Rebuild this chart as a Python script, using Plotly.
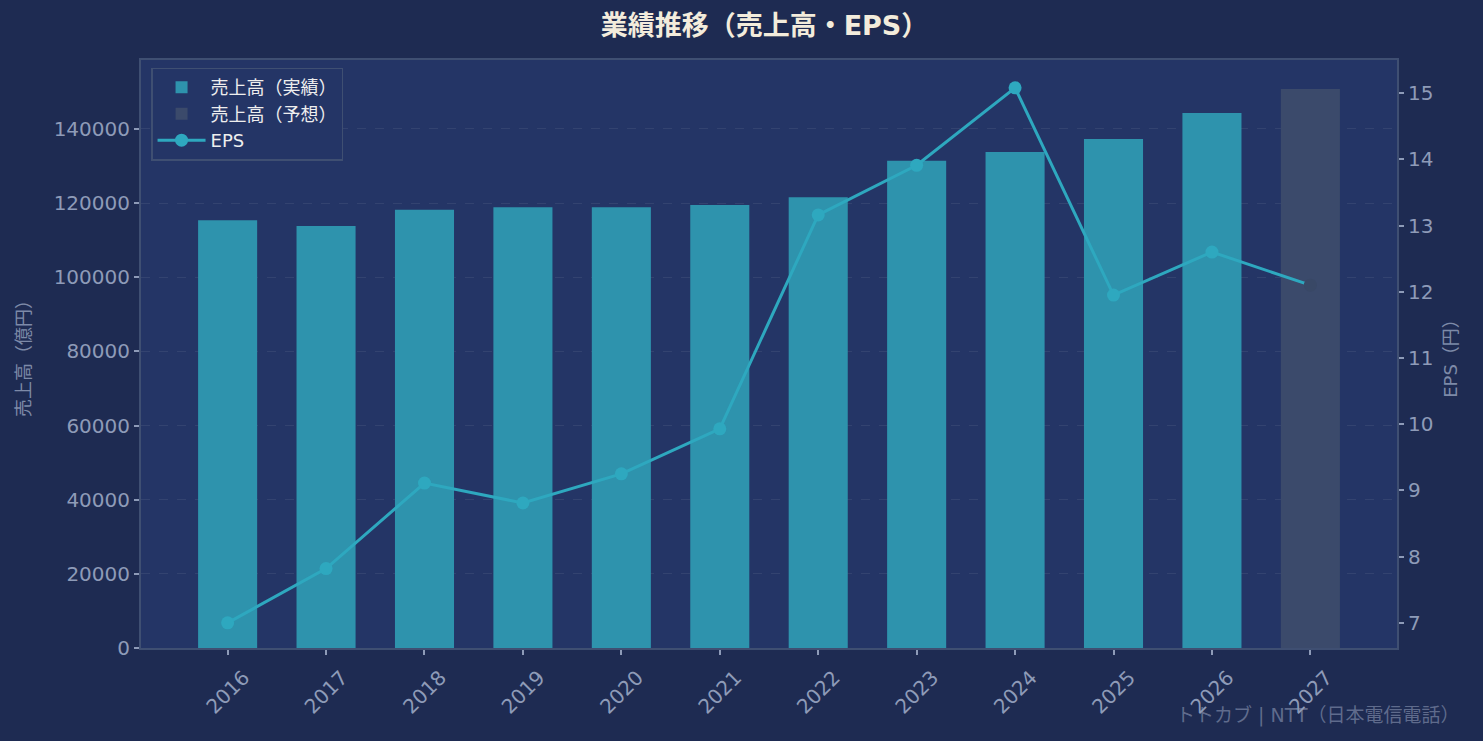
import plotly.graph_objects as go

years = ['2016', '2017', '2018', '2019', '2020', '2021', '2022', '2023', '2024', '2025', '2026', '2027']
actual_years = years[:11]
forecast_years = years[11:]
sales_actual = [115400, 113800, 118200, 118900, 118900, 119500, 121600, 131400, 133800, 137300, 144300]
sales_forecast = [150800]
eps = [7.00, 7.82, 9.11, 8.81, 9.25, 9.93, 13.16, 13.91, 15.08, 11.95, 12.60, 12.10]

FONT = "DejaVu Sans, Noto Sans CJK JP"
PAPER = "#1e2b52"
PLOT = "#243566"
TICK = "#8e9bb8"
AXLINE = "#3f4f72"

fig = go.Figure()
fig.add_trace(go.Bar(
    x=actual_years, y=sales_actual, name="売上高（実績）",
    marker=dict(color="#2e93ad", line=dict(width=0)), width=0.6,
))
fig.add_trace(go.Bar(
    x=forecast_years, y=sales_forecast, name="売上高（予想）",
    marker=dict(color="#3b4a6b", line=dict(width=0)), width=0.6,
))
marker_colors = ["#2ea8bf"] * (len(eps) - 1) + ["#394866"]
fig.add_trace(go.Scatter(
    x=years, y=eps, name="EPS", yaxis="y2", mode="lines+markers",
    line=dict(color="#2ea8bf", width=3),
    marker=dict(color=marker_colors, size=13),
))

fig.update_layout(
    width=1483, height=741,
    paper_bgcolor=PAPER, plot_bgcolor=PLOT,
    barmode="overlay",
    margin=dict(l=141, r=86, t=60, b=93),
    font=dict(family=FONT, color=TICK, size=18),
    title=dict(text="<b>業績推移（売上高・EPS）</b>", x=0.5155, xanchor="center", y=0.966, yanchor="middle",
               font=dict(family=FONT, size=27, color="#f3ecdc")),
    showlegend=True,
    legend=dict(x=0.008, y=0.987, xanchor="left", yanchor="top",
                bgcolor=PLOT, bordercolor=AXLINE, borderwidth=1.5,
                font=dict(family=FONT, size=18, color="#eeeeee"),
                tracegroupgap=2, itemwidth=48),
    xaxis=dict(type="category", range=[-0.88, 11.88], tickangle=-45,
               showline=True, linecolor=AXLINE, linewidth=2, mirror=True,
               ticks="outside", ticklen=5, tickcolor=TICK, tickwidth=1.5,
               ticklabelshift=16, ticklabelstandoff=3,
               showgrid=False, tickfont=dict(size=20, color=TICK)),
    yaxis=dict(range=[0, 158600], dtick=20000, showline=True, linecolor=AXLINE, linewidth=2,
               ticks="outside", ticklen=5, tickcolor=TICK, tickwidth=1.5,
               showgrid=True, gridcolor="rgba(255,255,255,0.07)", griddash="dash", gridwidth=1,
               zeroline=False, tickformat="d",
               title=dict(text="売上高（億円）", font=dict(size=18, color="#7d8aa8"), standoff=18),
               tickfont=dict(size=20, color=TICK)),
    yaxis2=dict(range=[6.62, 15.5], dtick=1, overlaying="y", side="right",
                showline=True, linecolor=AXLINE, linewidth=2,
                ticks="outside", ticklen=5, tickcolor=TICK, tickwidth=1.5,
                showgrid=False, zeroline=False,
                title=dict(text="EPS（円）", font=dict(size=18, color="#7d8aa8"), standoff=12),
                tickfont=dict(size=20, color=TICK)),
)

fig.add_annotation(text="トトカブ | NTT（日本電信電話）", xref="paper", yref="paper",
                   x=1.052, y=-0.115, xanchor="right", yanchor="middle", showarrow=False,
                   font=dict(family=FONT, size=19, color="rgba(140,152,180,0.6)"))

fig.write_html("out.html", config={"displayModeBar": False},
               post_script="document.body.style.margin='0';document.body.style.background='#1e2b52';")
